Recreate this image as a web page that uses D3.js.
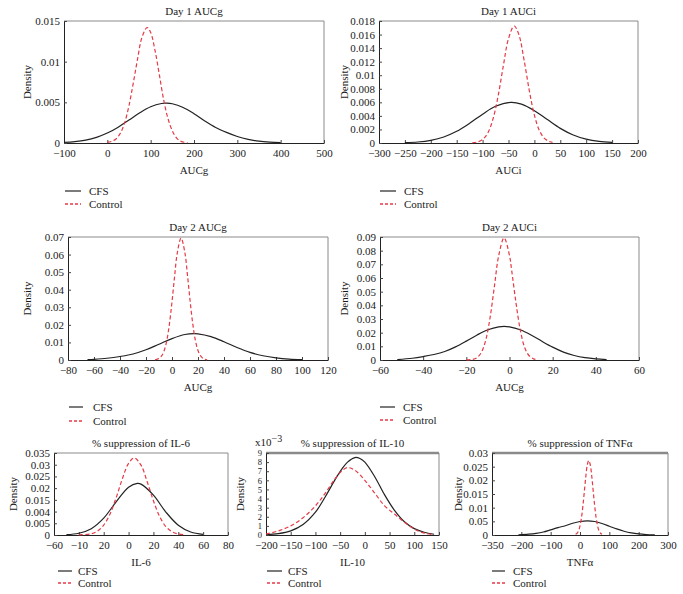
<!DOCTYPE html>
<html><head><meta charset="utf-8">
<script src="https://cdn.jsdelivr.net/npm/d3@7"></script>
<style>
body{margin:0;background:#fff}
svg{display:block}
text{font-family:"Liberation Serif","Times New Roman",serif;fill:#1a1a1a}
</style>
</head><body>
<svg id="chart" width="683" height="594"></svg>
<script>
// ---------- DATA (x, density) ----------
const day1AUCgCFS = [[-100,0.00007],[-75,0.00017],[-50,0.00036],[-25,0.0007],[0,0.00122],[25,0.00195],[50,0.00282],[75,0.00372],[100,0.00446],[125,0.00486],[137,0.0049],[150,0.00483],[175,0.00437],[200,0.0036],[225,0.0027],[250,0.0019],[275,0.0013],[300,0.0008],[325,0.00045],[350,0.00022],[375,0.0001],[400,0.00004]];
const day1AUCgCtl = [[0,0.0001],[10,0.0002],[20,0.0005],[30,0.0012],[40,0.0025],[50,0.0046],[60,0.0074],[70,0.0104],[80,0.013],[92,0.0142],[100,0.0136],[110,0.0114],[120,0.0084],[130,0.0053],[140,0.003],[150,0.0015],[160,0.0006],[170,0.0002],[185,0.00004]];

const day1AUCiCFS = [[-250,0.00005],[-225,0.00015],[-200,0.0004],[-175,0.00089],[-150,0.00172],[-125,0.00291],[-100,0.00426],[-75,0.00542],[-45,0.006],[-25,0.00573],[0,0.00477],[25,0.00345],[50,0.00216],[75,0.00118],[100,0.00056],[125,0.00023],[150,0.00008]];
const day1AUCiCtl = [[-120,0.00004],[-110,0.00015],[-100,0.00051],[-90,0.00148],[-80,0.00352],[-70,0.00696],[-60,0.01137],[-50,0.0154],[-39,0.01726],[-30,0.01599],[-20,0.01227],[-10,0.0078],[0,0.0041],[10,0.00178],[20,0.00064],[30,0.00019],[35,0.0001]];

const day2AUCgCFS = [[-65,0.0002],[-60,0.0004],[-50,0.001],[-40,0.002],[-30,0.0034],[-20,0.0058],[-10,0.009],[0,0.0122],[10,0.0145],[17,0.015],[20,0.0149],[30,0.0133],[40,0.0104],[50,0.0071],[60,0.0043],[70,0.0024],[80,0.0012],[90,0.0005],[100,0.0002]];
const day2AUCgCtl = [[-13,0.00016],[-10,0.00088],[-8,0.0023],[-6,0.0054],[-4,0.0111],[-2,0.0204],[0,0.0331],[2,0.0476],[4,0.0606],[7,0.0694],[10,0.0606],[12,0.0476],[14,0.0331],[16,0.0204],[18,0.0111],[20,0.0054],[22,0.0023],[24,0.00088],[27,0.0001]];

const day2AUCiCFS = [[-52,0.0003],[-45,0.0013],[-40,0.0025],[-35,0.004],[-30,0.0062],[-25,0.0096],[-20,0.0138],[-15,0.0183],[-10,0.0221],[-5,0.0243],[-2.5,0.0246],[0,0.0243],[5,0.0221],[10,0.0183],[15,0.0137],[20,0.0094],[25,0.0058],[30,0.0033],[35,0.0017],[40,0.0008],[45,0.0003]];
const day2AUCiCtl = [[-20,0.00004],[-17,0.00046],[-15,0.0018],[-13,0.0057],[-11,0.0146],[-9,0.031],[-7,0.0538],[-5,0.0764],[-2.5,0.0893],[0,0.0764],[1,0.0657],[3,0.0419],[5,0.0219],[7,0.0093],[9,0.0033],[11,0.0009],[12,0.0004]];

const il6CFS = [[-50,0.00015],[-40,0.00075],[-30,0.0027],[-20,0.0072],[-10,0.01415],[0,0.0204],[7,0.022],[10,0.0217],[20,0.017],[30,0.0098],[40,0.0042],[50,0.0013],[60,0.0003]];
const il6Ctl = [[-40,0.00004],[-30,0.00055],[-25,0.00165],[-20,0.0042],[-15,0.00886],[-10,0.0159],[-5,0.024],[0,0.0306],[4.6,0.0329],[10,0.0298],[15,0.0227],[20,0.0146],[25,0.0079],[30,0.0036],[35,0.0014],[40,0.00045],[45,0.0001]];

// IL-10 densities in units of 10^-3
const il10CFS = [[-200,0.05],[-175,0.15],[-150,0.45],[-125,1.15],[-100,2.5],[-80,4.2],[-60,6.1],[-47,7.2],[-35,8.0],[-20,8.5],[-10,8.4],[0,8.0],[20,6.4],[40,4.4],[60,2.7],[80,1.45],[100,0.7],[120,0.3],[140,0.08]];
const il10Ctl = [[-200,0.1],[-175,0.45],[-150,1.0],[-125,1.9],[-100,3.2],[-80,4.6],[-60,6.2],[-45,7.1],[-35,7.4],[-20,7.1],[0,6.0],[20,4.6],[40,3.2],[60,2.3],[80,1.4],[100,0.65],[120,0.2],[140,0.05]];

const tnfCFS = [[-210,0.00005],[-175,0.0003],[-150,0.0006],[-125,0.0011],[-100,0.0019],[-75,0.0027],[-50,0.0034],[-25,0.0043],[0,0.00495],[25,0.0052],[50,0.00493],[75,0.0042],[100,0.00322],[125,0.00222],[150,0.00138],[175,0.00077],[200,0.00039],[225,0.00017],[255,0.00005]];
const tnfCtl = [[-15,0.00024],[-10,0.00064],[-5,0.0015],[0,0.0033],[5,0.0063],[10,0.0107],[15,0.0161],[20,0.0216],[25,0.0257],[30,0.0273],[35,0.0257],[40,0.0216],[45,0.0161],[50,0.0107],[55,0.0063],[60,0.0033],[65,0.0015],[70,0.00064],[75,0.00024]];

// ---------- TICKS ----------
const day1AUCgXTicks = [-100,0,100,200,300,400,500];
const day1AUCgYTicks = [0,0.005,0.01,0.015];
const day1AUCiXTicks = [-300,-250,-200,-150,-100,-50,0,50,100,150,200];
const day1AUCiYTicks = [0,0.002,0.004,0.006,0.008,0.01,0.012,0.014,0.016,0.018];
const day2AUCgXTicks = [-80,-60,-40,-20,0,20,40,60,80,100,120];
const day2AUCgYTicks = [0,0.01,0.02,0.03,0.04,0.05,0.06,0.07];
const day2AUCiXTicks = [-60,-40,-20,0,20,40,60];
const day2AUCiYTicks = [0,0.01,0.02,0.03,0.04,0.05,0.06,0.07,0.08,0.09];
const il6XTicks = [-60,-40,-20,0,20,40,60,80];
const il6XLabels = ["\u221260","\u221210","20","0","20","40","60","80"];
const il6YTicks = [0,0.005,0.01,0.015,0.02,0.025,0.03,0.035];
const il6YLabels = ["0","0.005","0.004","0.015","0.02","0.025","0.03","0.035"];
const il10XTicks = [-200,-150,-100,-50,0,50,100,150];
const il10YTicks = [0,1,2,3,4,5,6,7,8,9];
const tnfXTicks = [-300,-200,-100,0,100,200,300];
const tnfXLabels = ["\u2212350","\u2212200","\u2212100","0","100","200","300"];
const tnfYTicks = [0,0.005,0.01,0.015,0.02,0.025,0.03];
const tnfYLabels = ["0","0.05","0.01","0.015","0.02","0.025","0.03"];

const seriesNames = ["CFS","Control"];

// ---------- LAYOUT / PANELS ----------
const fmt = v => String(+v.toFixed(4)).replace("-","\u2212");
const panels = [
  {title:"Day 1 AUCg", xLabel:"AUCg", cfs:day1AUCgCFS, ctl:day1AUCgCtl, xDom:[-100,500], yDom:[0,0.015],
   xt:day1AUCgXTicks, yt:day1AUCgYTicks, box:{l:64,r:324,t:21,b:143}, densX:27,
   leg:{x1:65,x2:81,tx:89,y1:191,y2:204}, topW:1},
  {title:"Day 1 AUCi", xLabel:"AUCi", cfs:day1AUCiCFS, ctl:day1AUCiCtl, xDom:[-300,200], yDom:[0,0.018],
   xt:day1AUCiXTicks, yt:day1AUCiYTicks, box:{l:379,r:638,t:21,b:143}, densX:344,
   leg:{x1:380,x2:396,tx:404,y1:191,y2:204}, topW:1},
  {title:"Day 2 AUCg", xLabel:"AUCg", cfs:day2AUCgCFS, ctl:day2AUCgCtl, xDom:[-80,120], yDom:[0,0.07],
   xt:day2AUCgXTicks, yt:day2AUCgYTicks, box:{l:68,r:328,t:237,b:360}, densX:27,
   leg:{x1:69,x2:83,tx:93,y1:407,y2:421}, topW:1},
  {title:"Day 2 AUCi", xLabel:"AUCg", cfs:day2AUCiCFS, ctl:day2AUCiCtl, xDom:[-60,60], yDom:[0,0.09],
   xt:day2AUCiXTicks, yt:day2AUCiYTicks, box:{l:380,r:639,t:237,b:360}, densX:344,
   leg:{x1:380,x2:395,tx:403,y1:407,y2:420}, topW:1},
  {title:"% suppression of IL-6", xLabel:"IL-6", cfs:il6CFS, ctl:il6Ctl, xDom:[-60,80], yDom:[0,0.035],
   xt:il6XTicks, xl:il6XLabels, yt:il6YTicks, yl:il6YLabels, box:{l:54,r:228,t:453,b:535}, densX:13,
   leg:{x1:58,x2:72,tx:78,y1:571,y2:583}, topW:1},
  {title:"% suppression of IL-10", xLabel:"IL-10", cfs:il10CFS, ctl:il10Ctl, xDom:[-200,150], yDom:[0,9],
   xt:il10XTicks, yt:il10YTicks, box:{l:266,r:439,t:453,b:535}, densX:240,
   leg:{x1:267,x2:282,tx:288,y1:571,y2:583}, topW:2.5, exp:true, yFont:8.5},
  {title:"% suppression of TNF\u03b1", xLabel:"TNF\u03b1", cfs:tnfCFS, ctl:tnfCtl, xDom:[-300,300], yDom:[0,0.03],
   xt:tnfXTicks, xl:tnfXLabels, yt:tnfYTicks, yl:tnfYLabels, box:{l:492,r:668,t:453,b:535}, densX:458,
   leg:{x1:492,x2:505,tx:513,y1:571,y2:583}, topW:2.5}
];

const RED = "#e53a45", BLK = "#222";
const svg = d3.select("#chart");

function drawPanel(p){
  const g = svg.append("g");
  const b = p.box;
  const x = d3.scaleLinear().domain(p.xDom).range([b.l,b.r]);
  const y = d3.scaleLinear().domain(p.yDom).range([b.b,b.t]);

  // frame top & right
  g.append("line").attr("x1",b.l).attr("x2",b.r).attr("y1",b.t).attr("y2",b.t)
    .attr("stroke","#8a8a8a").attr("stroke-width",p.topW);
  g.append("line").attr("x1",b.r).attr("x2",b.r).attr("y1",b.t).attr("y2",b.b)
    .attr("stroke","#8a8a8a").attr("stroke-width",1);

  const xa = d3.axisBottom(x).tickValues(p.xt).tickSizeInner(-3).tickSizeOuter(0).tickPadding(6.5)
    .tickFormat((d,i)=> p.xl ? p.xl[i] : fmt(d));
  const ya = d3.axisLeft(y).tickValues(p.yt).tickSizeInner(-3).tickSizeOuter(0).tickPadding(4)
    .tickFormat((d,i)=> p.yl ? p.yl[i] : fmt(d));

  const gx = g.append("g").attr("transform",`translate(0,${b.b})`).call(xa);
  const gy = g.append("g").attr("transform",`translate(${b.l},0)`).call(ya);
  [gx,gy].forEach(a=>{
    a.selectAll("text").attr("font-size",11).attr("font-family",'"Liberation Serif",serif').attr("fill","#1a1a1a");
    a.select(".domain").attr("stroke","#222");
    a.selectAll(".tick line").attr("stroke","#444");
  });
  if(p.yFont) gy.selectAll("text").attr("font-size",p.yFont);

  // curves
  const line = d3.line().x(d=>x(d[0])).y(d=>y(d[1])).curve(d3.curveCatmullRom.alpha(0.5));
  g.append("path").datum(p.cfs).attr("d",line).attr("fill","none").attr("stroke",BLK).attr("stroke-width",1.2);
  g.append("path").datum(p.ctl).attr("d",line).attr("fill","none").attr("stroke",RED).attr("stroke-width",1.2)
    .attr("stroke-dasharray","4,2.5");

  const cx = (b.l+b.r)/2;
  g.append("text").attr("x",cx).attr("y",b.t-6.5).attr("text-anchor","middle").attr("font-size",11).text(p.title);
  g.append("text").attr("x",cx).attr("y",b.b+31).attr("text-anchor","middle").attr("font-size",11).text(p.xLabel);
  g.append("text").attr("transform",`translate(${p.densX},${(b.t+b.b)/2}) rotate(-90)`)
    .attr("text-anchor","middle").attr("dy","0.35em").attr("font-size",11).text("Density");

  if(p.exp){
    const t = g.append("text").attr("x",b.l-11).attr("y",b.t-7).attr("font-size",11);
    t.append("tspan").text("x10");
    t.append("tspan").attr("dy",-4).attr("font-size",10).text("\u22123");
  }

  // legend
  const L = p.leg;
  g.append("line").attr("x1",L.x1).attr("x2",L.x2).attr("y1",L.y1).attr("y2",L.y1)
    .attr("stroke","#333").attr("stroke-width",1.3);
  g.append("text").attr("x",L.tx).attr("y",L.y1).attr("dy","0.35em").attr("font-size",11).text(seriesNames[0]);
  g.append("line").attr("x1",L.x1).attr("x2",L.x2).attr("y1",L.y2).attr("y2",L.y2)
    .attr("stroke",RED).attr("stroke-width",1.3).attr("stroke-dasharray","3,2");
  g.append("text").attr("x",L.tx).attr("y",L.y2).attr("dy","0.35em").attr("font-size",11).text(seriesNames[1]);
}
panels.forEach(drawPanel);
</script>
</body></html>
